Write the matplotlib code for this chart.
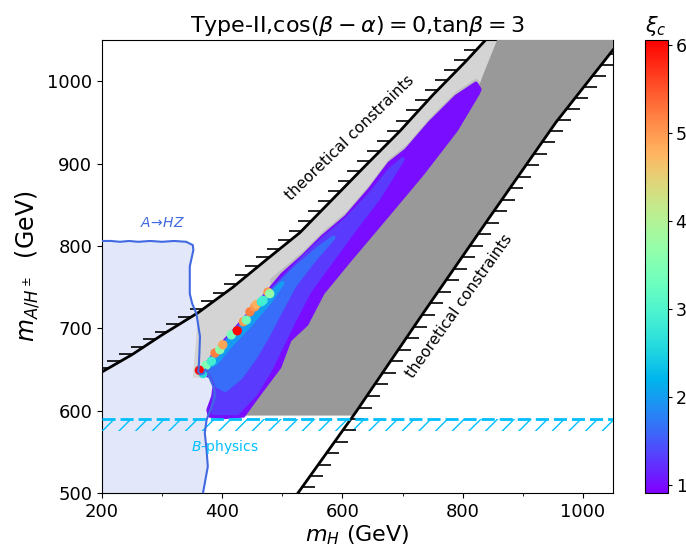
import numpy as np
import matplotlib
matplotlib.use("Agg")
import matplotlib.pyplot as plt
from matplotlib.collections import LineCollection
from matplotlib.patches import Polygon
from matplotlib.colors import Normalize

# ---------------- data ----------------
# upper theoretical-constraint boundary (mH, mA)
upper_mH = [200, 250, 300, 360, 418, 473, 529, 584, 639, 695, 750, 805, 838]
upper_mA = [647, 668, 692, 719, 750, 783, 816, 857, 898, 939, 983, 1024, 1050]
# lower theoretical-constraint boundary
lower_mH = [526, 623, 733, 844, 955, 1050]
lower_mA = [500, 599, 717, 834, 950, 1038]
# A -> HZ excluded region boundary
ahz_mH = [200, 215, 230, 245, 260, 280, 300, 320, 340, 351, 352, 346, 346, 350, 357, 363,
          362, 361, 360, 364, 369, 372, 375, 380, 386, 388, 382, 374, 371, 374, 376, 368]
ahz_mA = [806, 806, 805, 806, 805, 806, 805, 806, 805, 801, 795, 775, 742, 730, 718, 690,
          670, 654, 647, 644, 645, 650, 648, 638, 628, 617, 604, 589, 573, 552, 532, 500]
# B-physics bound
bphys_mA = 590
# grey regions
lightgrey_mH = [351, 360, 418, 473, 529, 584, 639, 695, 750, 805, 838, 857, 835, 828, 700, 560, 440, 380, 351]
lightgrey_mA = [640, 719, 750, 783, 816, 857, 898, 939, 983, 1024, 1050, 1050, 1010, 990, 880, 760, 690, 640, 640]
darkgrey_mH = [857, 835, 826, 780, 700, 600, 520, 470, 440, 430, 618, 623, 733, 844, 955, 1050, 1050]
darkgrey_mA = [1050, 1010, 992, 960, 900, 810, 720, 650, 600, 594, 594, 599, 717, 834, 950, 1038, 1050]
midgrey_mH = [480, 534, 567, 606, 645, 678, 706, 745, 789, 822, 833, 832, 790, 600, 480]
midgrey_mA = [760, 793, 817, 841, 874, 906, 922, 955, 987, 1003, 997, 985, 960, 820, 740]
# colored (allowed) band, layered by xi_c value
band_outer_mH = [363, 379, 396, 421, 440, 476, 500, 534, 567, 606, 645, 678, 706, 745, 789, 822, 828,
                 825, 789, 733, 678, 612, 567, 540, 512, 495, 462, 435, 400, 379, 377, 385, 388, 382, 370]
band_outer_mA = [649, 661, 678, 698, 714, 744, 765, 787, 811, 835, 868, 900, 916, 949, 981, 997, 990,
                 985, 941, 888, 840, 783, 743, 705, 686, 653, 621, 594, 592, 594, 601, 617, 633, 641, 645]
band_outer_xi = 1.0
band_l2_mH = [368, 396, 440, 476, 534, 567, 606, 645, 680, 700, 660, 620, 580, 545, 520, 500, 480, 455, 425, 385, 386, 390, 380]
band_l2_mA = [650, 676, 712, 742, 785, 808, 832, 862, 893, 905, 858, 820, 780, 745, 710, 680, 650, 620, 597, 597, 615, 632, 643]
band_l2_xi = 1.3
band_l3_mH = [372, 396, 440, 476, 520, 560, 585, 555, 520, 495, 475, 455, 430, 405, 392, 383]
band_l3_mA = [652, 675, 710, 740, 772, 797, 810, 785, 752, 718, 690, 665, 640, 625, 630, 645]
band_l3_xi = 1.65
band_l4_mH = [372, 396, 440, 476, 500, 480, 445, 410, 390]
band_l4_mA = [651, 674, 708, 738, 755, 733, 703, 676, 658]
band_l4_xi = 2.0
# individual bright points on the band edge
pts_mH = [368, 373, 382, 388, 396, 401, 415, 425, 435, 440, 446, 454, 457, 465, 468, 476, 479, 362]
pts_mA = [645, 655, 660, 670, 674, 680, 692, 697, 708, 710, 720, 726, 729, 732, 734, 744, 742, 649]
pts_xi = [2.6, 3.5, 2.9, 5.2, 3.6, 4.9, 3.4, 6.0, 5.0, 3.4, 5.2, 5.0, 4.8, 2.8, 2.9, 5.0, 3.7, 6.0]

xi_min, xi_max = 0.91, 6.06
cb_ticks = [1, 2, 3, 4, 5, 6]
x_major = [200, 400, 600, 800, 1000]
x_minor = [300, 500, 700, 900]
y_ticks = [500, 600, 700, 800, 900, 1000]

# ---------------- figure ----------------
fig = plt.figure(figsize=(6.86, 5.5), dpi=100)
ax = fig.add_axes([102 / 686, 57 / 550, 511 / 686, 453 / 550])
cax = fig.add_axes([644.5 / 686, 57 / 550, 23.5 / 686, 453 / 550])
ax.set_xlim(200, 1050)
ax.set_ylim(500, 1050)

cmap = plt.get_cmap('rainbow')
norm = Normalize(vmin=xi_min, vmax=xi_max)

# A->HZ region
ax.fill(ahz_mH + [200], ahz_mA + [500], color='royalblue', alpha=0.15, lw=0, zorder=1)
ax.plot(ahz_mH, ahz_mA, color='royalblue', lw=1.5, zorder=8)

# grey regions
ax.fill(lightgrey_mH, lightgrey_mA, color='#d4d4d4', lw=0, zorder=2)
ax.fill(midgrey_mH, midgrey_mA, color='#bdbdbd', lw=0, zorder=2.5)
ax.fill(darkgrey_mH, darkgrey_mA, color='#999999', lw=0, zorder=3)

# colored band
for xs, ys, v in [(band_outer_mH, band_outer_mA, band_outer_xi),
                  (band_l2_mH, band_l2_mA, band_l2_xi),
                  (band_l3_mH, band_l3_mA, band_l3_xi),
                  (band_l4_mH, band_l4_mA, band_l4_xi)]:
    c = cmap(norm(v))
    ax.add_patch(Polygon(np.column_stack([xs, ys]), closed=True, facecolor=c,
                         edgecolor=c, lw=3, joinstyle='round', zorder=4))
sc = ax.scatter(pts_mH, pts_mA, c=pts_xi, cmap=cmap, norm=norm, s=45,
                edgecolors='none', zorder=6)

# theoretical constraint lines
ax.plot(upper_mH, upper_mA, color='black', lw=2, zorder=7)
ax.plot(lower_mH, lower_mA, color='black', lw=2, zorder=7)


def ticked(xs, ys, spacing, length, direction):
    pts = ax.transData.transform(np.column_stack([xs, ys]))
    seg = np.hypot(np.diff(pts[:, 0]), np.diff(pts[:, 1]))
    s = np.concatenate([[0], np.cumsum(seg)])
    d = np.arange(spacing / 2, s[-1], spacing)
    px = np.interp(d, s, pts[:, 0])
    py = np.interp(d, s, pts[:, 1])
    inv = ax.transData.inverted()
    segs = []
    for a, b in zip(px, py):
        p0 = inv.transform((a, b))
        p1 = inv.transform((a + direction * length, b))
        segs.append([p0, p1])
    ax.add_collection(LineCollection(segs, colors='black', linewidths=1.2, zorder=7))


ticked(upper_mH, upper_mA, 14, 13, -1)
ticked(lower_mH, lower_mA, 14, 13, +1)

# B-physics bound
ax.axhline(bphys_mA, color='deepskyblue', lw=2, ls=(0, (4.7, 1.8)), zorder=7)
plt.rcParams['hatch.linewidth'] = 1.0
ax.fill_between([200, 1050], bphys_mA - 15, bphys_mA, facecolor='none',
                edgecolor='deepskyblue', hatch='//', lw=0, zorder=6)

# labels in plot
ax.text(612, 931, 'theoretical constraints', rotation=44, rotation_mode='anchor',
        ha='center', va='center', fontsize=11, zorder=9)
ax.text(794, 727, 'theoretical constraints', rotation=54.6, rotation_mode='anchor',
        ha='center', va='center', fontsize=11, zorder=9)
ax.text(300, 828, r'$A\!\rightarrow\!HZ$', color='royalblue', ha='center', va='center',
        fontsize=10, zorder=9)
ax.text(404, 556, r'$B$-physics', color='deepskyblue', ha='center', va='center',
        fontsize=10, zorder=9)

# axes styling
ax.set_xticks(x_major)
ax.set_xticks(x_minor, minor=True)
ax.set_yticks(y_ticks)
ax.tick_params(labelsize=13)
ax.set_xlabel(r'$m_H$ (GeV)', fontsize=16, labelpad=2)
ax.set_ylabel(r'$m_{A/H^\pm}$  (GeV)', fontsize=17)
ax.set_title(r'Type-II,cos$(\beta-\alpha)=0$,tan$\beta=3$', fontsize=16)

cb = fig.colorbar(sc, cax=cax, ticks=cb_ticks)
cb.ax.tick_params(labelsize=12.5, length=3, pad=2.5)
cax.set_title(r'$\xi_c$', fontsize=15)

fig.savefig('out.png', dpi=100)
